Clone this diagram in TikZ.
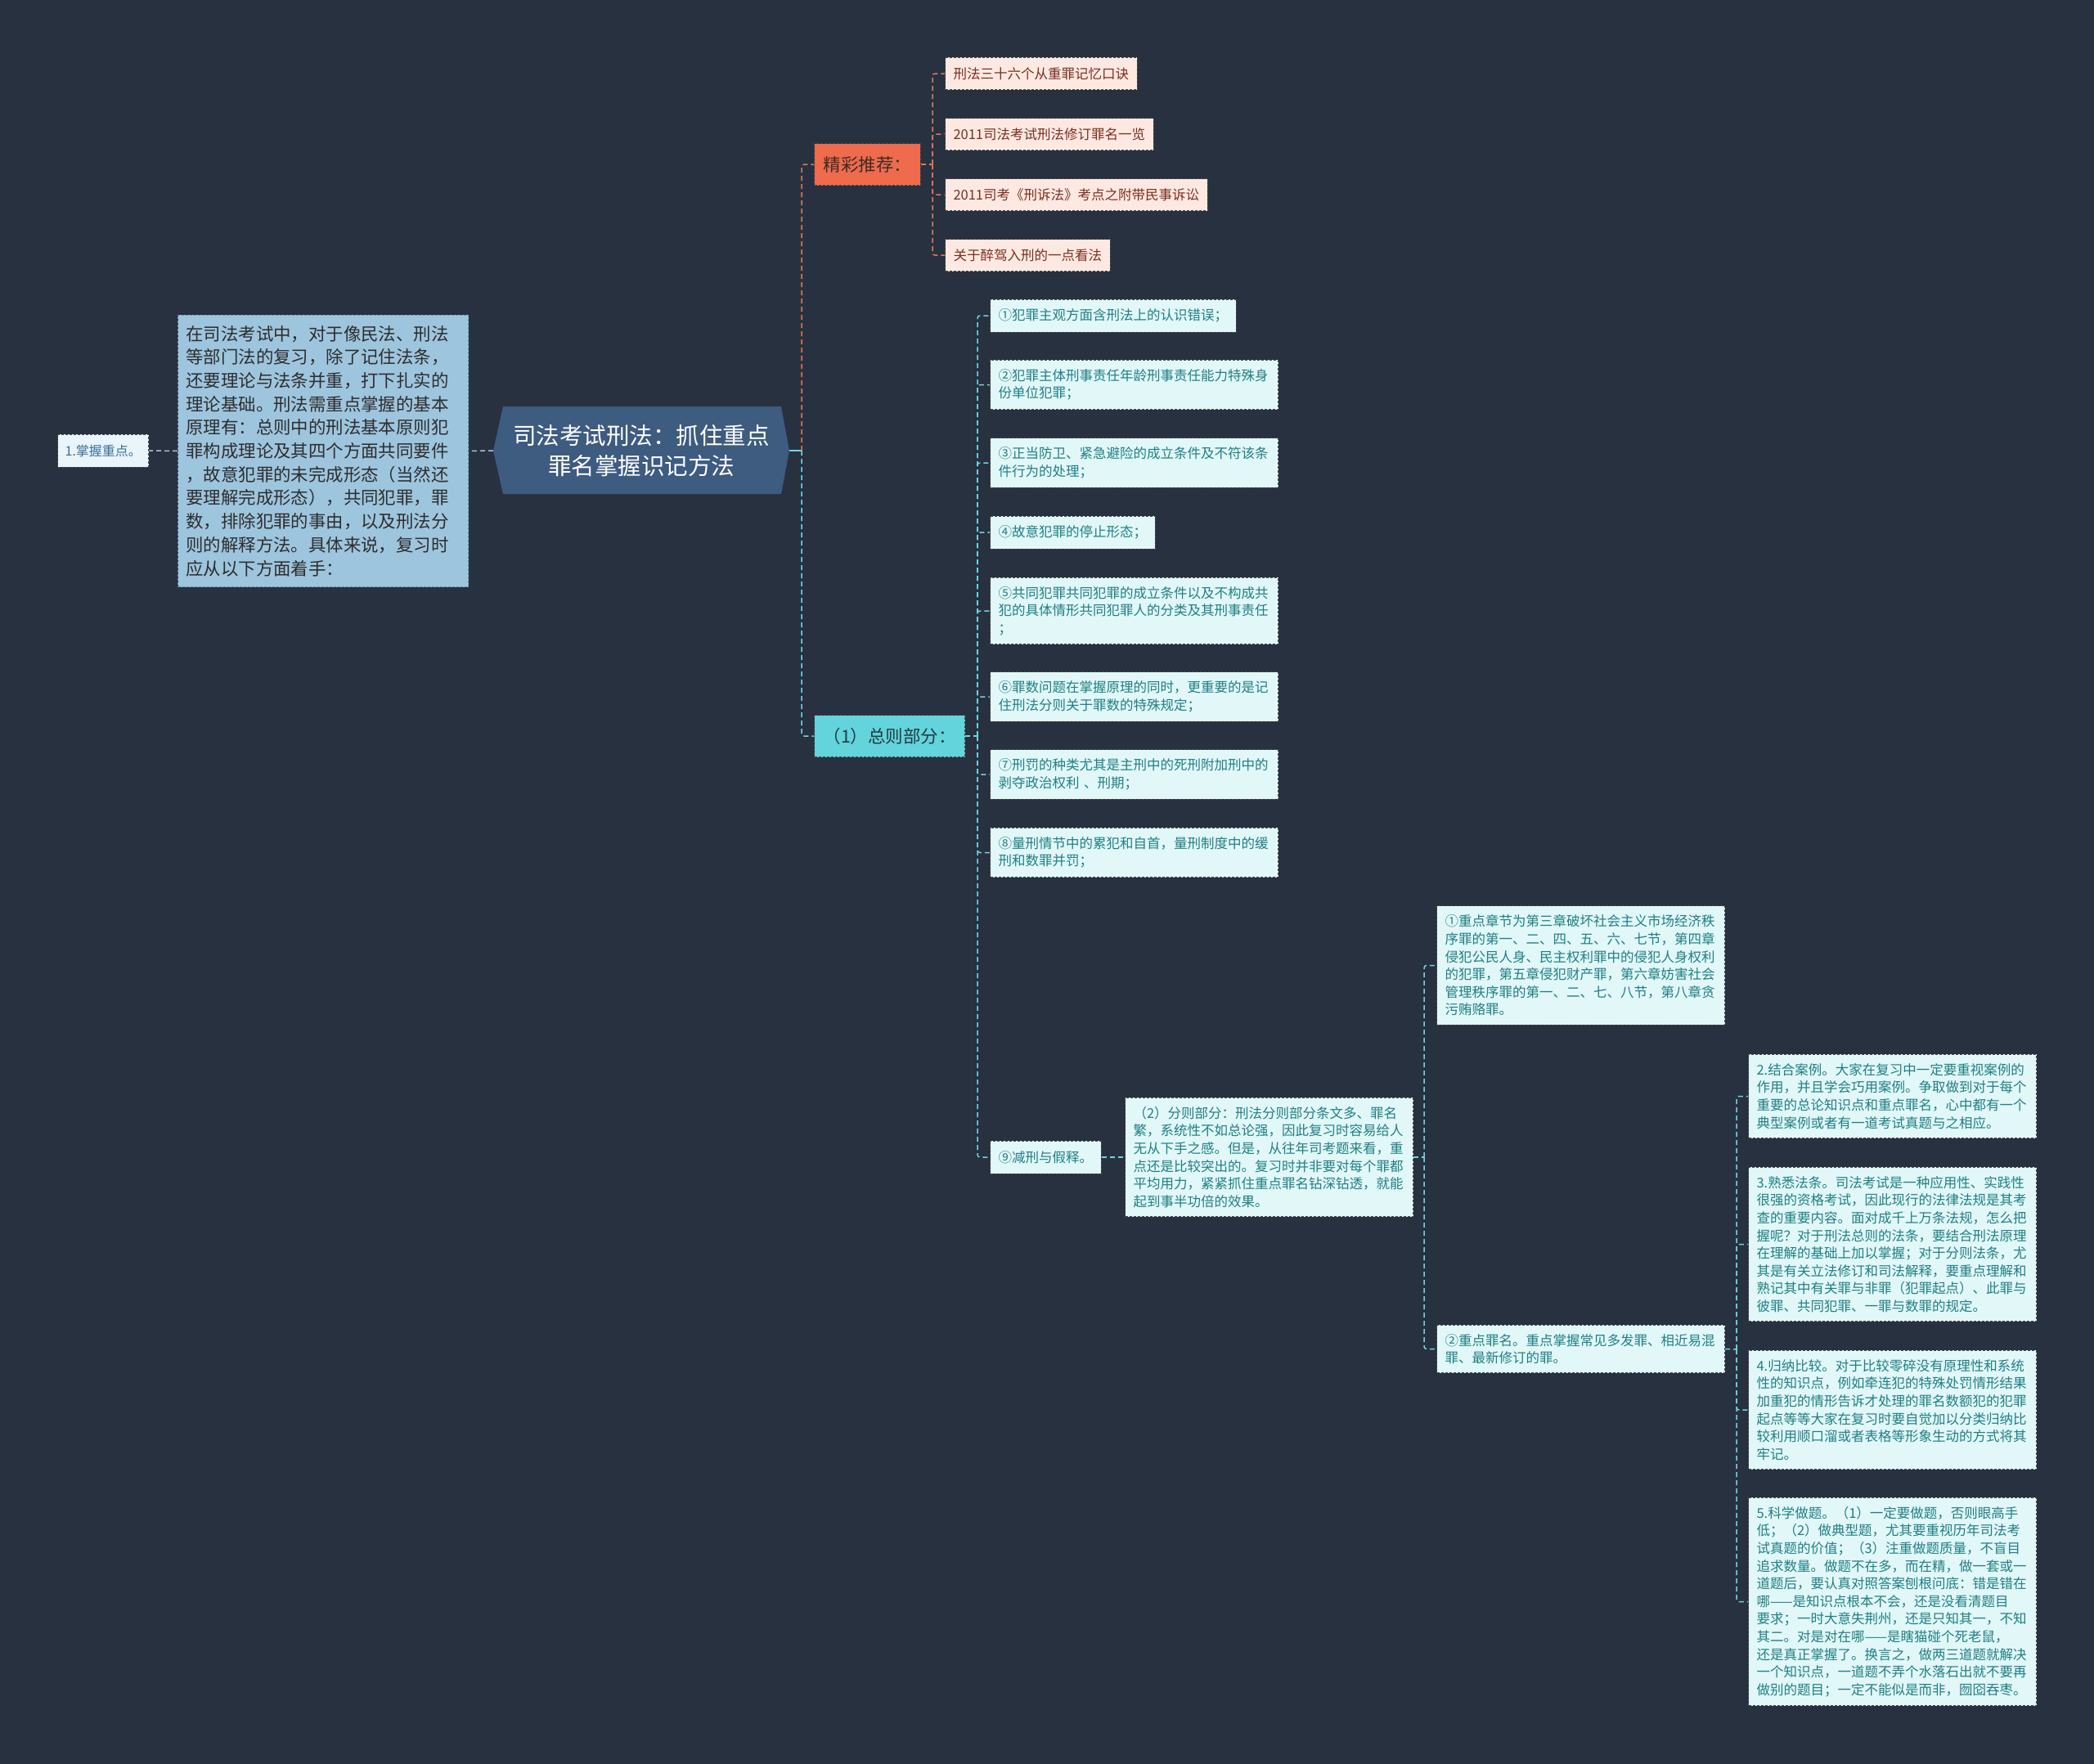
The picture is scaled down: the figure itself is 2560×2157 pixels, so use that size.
\documentclass[tikz,border=0pt]{standalone}
\usepackage{fontspec}
\newfontfamily\cjk{Noto Sans CJK SC}
\definecolor{bg}{HTML}{283140}
\definecolor{rootfill}{HTML}{3E5B80}
\definecolor{bigfill}{HTML}{9EC5DE}
\definecolor{bigtext}{HTML}{2D2D2D}
\definecolor{bigborder}{HTML}{6E93B0}
\definecolor{kfill}{HTML}{E9F4FB}
\definecolor{ktext}{HTML}{3B6E96}
\definecolor{jcfill}{HTML}{EE6B4D}
\definecolor{jctext}{HTML}{3F2A25}
\definecolor{pinkfill}{HTML}{FDE9E2}
\definecolor{pinktext}{HTML}{7A2E1F}
\definecolor{zzfill}{HTML}{63D3DC}
\definecolor{zztext}{HTML}{213C42}
\definecolor{cyanfill}{HTML}{E2F7F7}
\definecolor{cyantext}{HTML}{1F7F85}
\definecolor{bordergray}{HTML}{4A4A4A}
\definecolor{orangeline}{HTML}{E0785A}
\definecolor{cyanline}{HTML}{6FD6E0}
\definecolor{grayline}{HTML}{A9C4D8}
\tikzset{
  conn/.style={line width=1.5pt, dash pattern=on 6pt off 4pt, rounded corners=3pt},
  oconn/.style={conn, draw=orangeline},
  cconn/.style={conn, draw=cyanline},
  gconn/.style={conn, draw=grayline},
  box/.style={draw=bordergray, line width=1pt, dash pattern=on 3pt off 2pt,
    inner xsep=10pt, inner ysep=11pt, anchor=west, align=left,
    font={\cjk\fontsize{16.5pt}{21.6pt}\selectfont}},
  pinkbox/.style={box, fill=pinkfill, text=pinktext, minimum height=39pt},
  cyanbox/.style={box, fill=cyanfill, text=cyantext, minimum height=40pt},
  widebox/.style={cyanbox, text width=332pt},
  topic/.style={draw=bordergray, line width=1pt, dash pattern=on 3pt off 2pt,
    inner xsep=11pt, inner ysep=4pt, minimum height=51pt, anchor=west,
    font={\cjk\fontsize{21.5pt}{26pt}\selectfont}},
}
\begin{document}
\begin{tikzpicture}[x=1pt,y=-1pt]
\fill[bg] (0,0) rectangle (2560,2157);
\useasboundingbox (0,0) rectangle (2560,2157);

% root
\fill[rootfill] (603,551) -- (615,497) -- (955,497) -- (965,551) -- (955,604) -- (615,604) -- cycle;
\node[minimum width=362pt, minimum height=107pt, inner sep=0pt, align=center, text=white,
  font={\cjk\fontsize{28.5pt}{36.7pt}\selectfont}] (root) at (784,551)
  {司法考试刑法：抓住重点\\罪名掌握识记方法};

% left side
\node[draw=bigborder, line width=1pt, dash pattern=on 3pt off 2pt, fill=bigfill, text=bigtext,
  anchor=west, inner xsep=10pt, inner ysep=13pt, text width=335pt, align=left,
  font={\cjk\fontsize{21.4pt}{28.7pt}\selectfont}] (big) at (217,551.5)
  {在司法考试中，对于像民法、刑法\\等部门法的复习，除了记住法条，\\还要理论与法条并重，打下扎实的\\理论基础。刑法需重点掌握的基本\\原理有：总则中的刑法基本原则犯\\罪构成理论及其四个方面共同要件\\，故意犯罪的未完成形态（当然还\\要理解完成形态），共同犯罪，罪\\数，排除犯罪的事由，以及刑法分\\则的解释方法。具体来说，复习时\\应从以下方面着手：};
\node[box, fill=kfill, text=ktext, minimum height=40pt, inner xsep=9pt,
  font={\cjk\fontsize{16pt}{20pt}\selectfont}] (k1) at (70,551) {1.掌握重点。};

% topics
\node[topic, fill=jcfill, text=jctext] (jc) at (995,201) {精彩推荐：};
\node[topic, fill=zzfill, text=zztext] (zz) at (995,900) {（1）总则部分：};

% pink boxes
\node[pinkbox] (p1) at (1155,90) {刑法三十六个从重罪记忆口诀};
\node[pinkbox] (p2) at (1155,164) {2011司法考试刑法修订罪名一览};
\node[pinkbox] (p3) at (1155,238) {2011司考《刑诉法》考点之附带民事诉讼};
\node[pinkbox] (p4) at (1155,312) {关于醉驾入刑的一点看法};

% general part
\node[cyanbox] (c1) at (1210,386) {①犯罪主观方面含刑法上的认识错误；};
\node[widebox] (c2) at (1210,470.5) {②犯罪主体刑事责任年龄刑事责任能力特殊身\\份单位犯罪；};
\node[widebox] (c3) at (1210,566) {③正当防卫、紧急避险的成立条件及不符该条\\件行为的处理；};
\node[cyanbox] (c4) at (1210,651) {④故意犯罪的停止形态；};
\node[widebox] (c5) at (1210,747) {⑤共同犯罪共同犯罪的成立条件以及不构成共\\犯的具体情形共同犯罪人的分类及其刑事责任\\；};
\node[widebox] (c6) at (1210,852) {⑥罪数问题在掌握原理的同时，更重要的是记\\住刑法分则关于罪数的特殊规定；};
\node[widebox] (c7) at (1210,947) {⑦刑罚的种类尤其是主刑中的死刑附加刑中的\\剥夺政治权利 、刑期；};
\node[widebox] (c8) at (1210,1042.5) {⑧量刑情节中的累犯和自首，量刑制度中的缓\\刑和数罪并罚；};
\node[cyanbox] (c9) at (1210,1415) {⑨减刑与假释。};

% special part
\node[widebox] (fz) at (1375,1415) {（2）分则部分：刑法分则部分条文多、罪名\\繁，系统性不如总论强，因此复习时容易给人\\无从下手之感。但是，从往年司考题来看，重\\点还是比较突出的。复习时并非要对每个罪都\\平均用力，紧紧抓住重点罪名钻深钻透，就能\\起到事半功倍的效果。};
\node[widebox] (d1) at (1756,1180.5) {①重点章节为第三章破坏社会主义市场经济秩\\序罪的第一、二、四、五、六、七节，第四章\\侵犯公民人身、民主权利罪中的侵犯人身权利\\的犯罪，第五章侵犯财产罪，第六章妨害社会\\管理秩序罪的第一、二、七、八节，第八章贪\\污贿赂罪。};
\node[widebox] (d2) at (1756,1649.5) {②重点罪名。重点掌握常见多发罪、相近易混\\罪、最新修订的罪。};

\node[widebox] (e2) at (2137,1340.5) {2.结合案例。大家在复习中一定要重视案例的\\作用，并且学会巧用案例。争取做到对于每个\\重要的总论知识点和重点罪名，心中都有一个\\典型案例或者有一道考试真题与之相应。};
\node[widebox] (e3) at (2137,1521.5) {3.熟悉法条。司法考试是一种应用性、实践性\\很强的资格考试，因此现行的法律法规是其考\\查的重要内容。面对成千上万条法规，怎么把\\握呢？对于刑法总则的法条，要结合刑法原理\\在理解的基础上加以掌握；对于分则法条，尤\\其是有关立法修订和司法解释，要重点理解和\\熟记其中有关罪与非罪（犯罪起点）、此罪与\\彼罪、共同犯罪、一罪与数罪的规定。};
\node[widebox] (e4) at (2137,1724) {4.归纳比较。对于比较零碎没有原理性和系统\\性的知识点，例如牵连犯的特殊处罚情形结果\\加重犯的情形告诉才处理的罪名数额犯的犯罪\\起点等等大家在复习时要自觉加以分类归纳比\\较利用顺口溜或者表格等形象生动的方式将其\\牢记。};
\node[widebox] (e5) at (2137,1958.5) {5.科学做题。（1）一定要做题，否则眼高手\\低；（2）做典型题，尤其要重视历年司法考\\试真题的价值；（3）注重做题质量，不盲目\\追求数量。做题不在多，而在精，做一套或一\\道题后，要认真对照答案刨根问底：错是错在\\哪——是知识点根本不会，还是没看清题目\\要求；一时大意失荆州，还是只知其一，不知\\其二。对是对在哪——是瞎猫碰个死老鼠，\\还是真正掌握了。换言之，做两三道题就解决\\一个知识点，一道题不弄个水落石出就不要再\\做别的题目；一定不能似是而非，囫囵吞枣。};

% junction coordinates
\coordinate (rj) at (980,551);
\coordinate (jv) at (1140,201);
\coordinate (zv) at (1195,900);
\coordinate (fv) at (1741,1415);
\coordinate (dv) at (2123,1650);

% connectors
\draw[gconn] (root.west) -- (big.east);
\draw[gconn] (big.west) -- (k1.east);
\draw[line width=1.5pt, cyanline] (root.east) -- (rj);
\draw[oconn] (rj) |- (jc.west);
\draw[cconn] (rj) |- (zz.west);
\draw[oconn] (jc.east) -- (jv);
\foreach \n in {p1,p2,p3,p4} \draw[oconn] (jv) |- (\n.west);
\draw[cconn] (zz.east) -- (zv);
\foreach \n in {c1,c2,c3,c4,c5,c6,c7,c8,c9} \draw[cconn] (zv) |- (\n.west);
\draw[cconn] (c9.east) -- (fz.west);
\draw[cconn] (fz.east) -- (fv);
\foreach \n in {d1,d2} \draw[cconn] (fv) |- (\n.west);
\draw[cconn] (d2.east) -- (dv);
\foreach \n in {e2,e3,e4,e5} \draw[cconn] (dv) |- (\n.west);
\end{tikzpicture}
\end{document}
